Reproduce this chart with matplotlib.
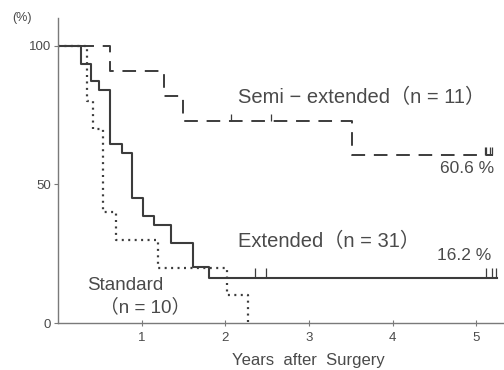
import matplotlib
matplotlib.use("Agg")
import matplotlib.pyplot as plt

# --- data ---
std_t = [0, 0.35, 0.42, 0.54, 0.69, 1.20, 2.02, 2.27]
std_s = [100, 80, 70, 40, 30, 20, 10, 0]

ext_t = [0, 0.28, 0.40, 0.49, 0.62, 0.76, 0.88, 1.01, 1.15, 1.35, 1.61, 1.81, 5.25]
ext_s = [100, 93.5, 87.1, 83.9, 64.5, 61.3, 45.2, 38.7, 35.5, 29.0, 20.2, 16.2, 16.2]
ext_cens_t = [2.35, 2.48, 5.12, 5.19, 5.24]

semi_t = [0, 0.62, 1.27, 1.49, 3.51, 5.20]
semi_s = [100, 90.9, 81.8, 72.7, 60.6, 60.6]
semi_cens_t = [2.07, 2.55, 5.10, 5.12, 5.16, 5.19]

x_ticks = [1, 2, 3, 4, 5]
y_ticks = [0, 50, 100]
y_ticklabels = ["0", "50", "100"]

LINE = "#3c3c3c"
TXT = "#4a4a4a"
FAM = ["Liberation Sans", "Noto Sans CJK JP", "DejaVu Sans"]

fig = plt.figure(figsize=(5.04, 3.70), dpi=100)
ax = fig.add_axes([58 / 504, 47 / 370, (504 - 58) / 504, (323 - 18) / 370])
ax.set_xlim(0, 5.33)
ax.set_ylim(0, 110)

ax.step(std_t, std_s, where="post", color=LINE, lw=1.6, linestyle=(0, (0.9, 2.0)))
ax.step(ext_t, ext_s, where="post", color=LINE, lw=1.5)
ax.step(semi_t, semi_s, where="post", color=LINE, lw=1.4, linestyle=(0, (7, 4.5)))


def surv_at(ts, ss, t):
    v = ss[0]
    for ti, si in zip(ts, ss):
        if ti <= t:
            v = si
    return v


for t in ext_cens_t:
    y = surv_at(ext_t, ext_s, t)
    ax.vlines(t, y, y + 3.6, color=LINE, lw=0.9)
for t in semi_cens_t:
    y = surv_at(semi_t, semi_s, t)
    ax.vlines(t, y, y + 2.8, color=LINE, lw=0.9)

for s in ["top", "right"]:
    ax.spines[s].set_visible(False)
for s in ["left", "bottom"]:
    ax.spines[s].set_color("#7a7a7a")
    ax.spines[s].set_linewidth(1.0)

ax.set_xticks(x_ticks)
ax.set_xticklabels([str(v) for v in x_ticks], family=FAM, fontsize=9.5, color=TXT)
ax.set_yticks(y_ticks)
ax.set_yticklabels(y_ticklabels, family=FAM, fontsize=9.5, color=TXT)
ax.tick_params(axis="x", direction="inout", length=5, color="#7a7a7a", pad=4)
ax.tick_params(axis="y", direction="out", length=3, color="#7a7a7a", pad=2)

ax.set_xlabel("Years  after  Surgery", family=FAM, fontsize=12, color=TXT)
ax.xaxis.set_label_coords((308 - 58) / 446, -0.097)
fig.text(12 / 504, 1 - 18 / 370, "(%)", family=FAM, fontsize=9, color=TXT, va="center")

kw = dict(family=FAM, color=TXT, va="center")
ax.text(2.15, 81.3, "Semi − extended（n = 11）", fontsize=14.5, **kw)
ax.text(4.56, 55.8, "60.6 %", fontsize=12.5, **kw)
ax.text(2.15, 29.5, "Extended（n = 31）", fontsize=14.5, **kw)
ax.text(4.53, 24.5, "16.2 %", fontsize=12.5, **kw)
ax.text(0.35, 13.7, "Standard", fontsize=13.5, **kw)
ax.text(0.50, 5.8, "（n = 10）", fontsize=13.5, **kw)

fig.savefig("out.png", dpi=100)
